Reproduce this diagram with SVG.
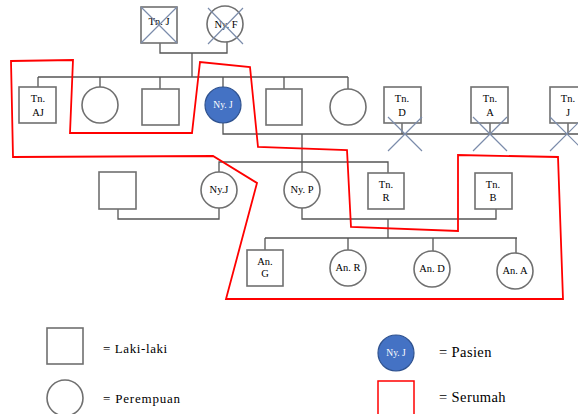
<svg xmlns="http://www.w3.org/2000/svg" width="578" height="414" viewBox="0 0 578 414">
<style>
.sh{fill:#fff;stroke:#707070;stroke-width:1.6}
.ln{fill:none;stroke:#555;stroke-width:1.3}
.x{stroke:#7b8cab;stroke-width:1.2}
.pt{fill:#4472c4;stroke:#2f528f;stroke-width:1.2}
.t{font-family:"Liberation Serif","Times New Roman",serif;font-size:10.5px;fill:#000;text-anchor:middle}
.tw{font-family:"Liberation Serif","Times New Roman",serif;font-size:9.5px;fill:#fff;text-anchor:middle}
.lg{font-family:"Liberation Serif","Times New Roman",serif;fill:#000}
.red{fill:none;stroke:#ff0000;stroke-width:1.8}
</style>
<rect width="578" height="414" fill="#fff"/>
<g id="connectors">
<path class="ln" d="M160 43V53H227V42M192 53V77M38 77H348M38 77V87M100 77V87M160 77V89M223 77V87M284 77V89M348 77V89"/>
<path class="ln" d="M223 123V134H578M402 123V134M490 123V134M568 123V134M302 134V172M219 172V162H388V173"/>
<path class="ln" d="M118 209V219H219V208M302 208V219H496V209M388 219V238M265 238H517M265 238V250M348 238V250M433 238V251M516 238V253"/>
</g>
<g id="TnJ_top"><rect class="sh" x="141" y="7" width="36" height="36"/><text class="t" x="159" y="25">Tn. J</text><path class="x" d="M141 7L177 43M177 7L141 43"/></g>
<g id="NyF"><circle class="sh" cx="225" cy="24" r="18"/><text class="t" x="226" y="28">Ny. F</text><path class="x" d="M208 8L243 44M243 8L208 44"/></g>
<g id="TnAJ"><rect class="sh" x="19" y="87" width="37" height="36"/><text class="t" x="38" y="102">Tn.</text><text class="t" x="38" y="116">AJ</text></g>
<g id="F2"><circle class="sh" cx="100" cy="105" r="18"/></g>
<g id="M3"><rect class="sh" x="142" y="89" width="37" height="36"/></g>
<g id="NyJ_patient"><circle class="pt" cx="223" cy="105" r="18"/><text class="tw" x="223" y="108">Ny. J</text></g>
<g id="M5"><rect class="sh" x="266" y="89" width="36" height="36"/></g>
<g id="F6"><circle class="sh" cx="348" cy="107" r="18"/></g>
<g id="TnD"><rect class="sh" x="384" y="87" width="37" height="36"/><text class="t" x="402" y="102">Tn.</text><text class="t" x="402" y="116">D</text><path class="x" d="M388 117L422 151M422 117L388 151"/></g>
<g id="TnA"><rect class="sh" x="471" y="87" width="37" height="36"/><text class="t" x="490" y="102">Tn.</text><text class="t" x="490" y="116">A</text><path class="x" d="M473 117L507 151M507 117L473 151"/></g>
<g id="TnJ_right"><rect class="sh" x="550" y="87" width="37" height="36"/><text class="t" x="568" y="102">Tn.</text><text class="t" x="568" y="116">J</text><path class="x" d="M550 117L584 151M584 117L550 151"/></g>
<g id="M_left"><rect class="sh" x="99" y="172" width="37" height="37"/></g>
<g id="NyJ2"><circle class="sh" cx="219" cy="190" r="18"/><text class="t" x="219" y="193">Ny.J</text></g>
<g id="NyP"><circle class="sh" cx="302" cy="190" r="18"/><text class="t" x="302" y="193">Ny. P</text></g>
<g id="TnR"><rect class="sh" x="368" y="173" width="36" height="36"/><text class="t" x="386" y="188">Tn.</text><text class="t" x="386" y="201">R</text></g>
<g id="TnB"><rect class="sh" x="475" y="173" width="37" height="36"/><text class="t" x="493" y="188">Tn.</text><text class="t" x="493" y="201">B</text></g>
<g id="AnG"><rect class="sh" x="247" y="250" width="36" height="36"/><text class="t" x="265" y="265">An.</text><text class="t" x="265" y="277">G</text></g>
<g id="AnR"><circle class="sh" cx="348" cy="268" r="18"/><text class="t" x="348" y="271">An. R</text></g>
<g id="AnD"><circle class="sh" cx="432" cy="269" r="18"/><text class="t" x="432" y="272">An. D</text></g>
<g id="AnA"><circle class="sh" cx="515" cy="271" r="18"/><text class="t" x="515" y="274">An. A</text></g>
<g id="household"><polygon class="red" points="11,61 73,60 70,133 192,133 200,62 250,67 258,147 347,150 351,227 458,231 458,155 558,157 563,299 226,299 257,183 213,156 13,157"/></g>
<g id="legend">
<rect class="sh" x="47" y="328" width="36" height="36"/><text class="lg" x="103" y="353" font-size="13" letter-spacing="0.6">= Laki-laki</text>
<circle class="sh" cx="65" cy="398" r="18"/><text class="lg" x="103" y="403" font-size="13" letter-spacing="0.8">= Perempuan</text>
<circle class="pt" cx="396" cy="353" r="18"/><text class="tw" x="396" y="356" font-size="8">Ny. J</text><text class="lg" x="439" y="357" font-size="14.5" letter-spacing="0.4">= Pasien</text>
<rect fill="none" stroke="#ff0000" stroke-width="1.5" x="378" y="381" width="36" height="40"/><text class="lg" x="439" y="402" font-size="14.5" letter-spacing="0.4">= Serumah</text>
</g>
</svg>
